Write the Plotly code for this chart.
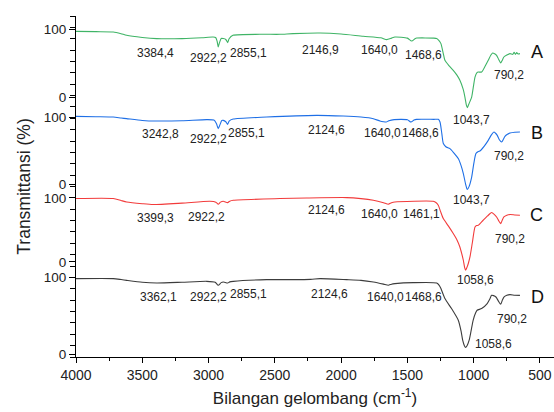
import plotly.graph_objects as go

# ---------------- data (wavenumber cm-1, transmittance % relative to each trace's 0/100 labels)
wn_A = [4000, 3850, 3719, 3660, 3618, 3500, 3391, 3200, 3050, 2966, 2945, 2935, 2927, 2918, 2905, 2889,
        2870, 2856, 2845, 2816, 2612, 2461, 2363, 2159, 2000, 1833, 1700, 1656, 1620, 1594, 1500, 1468,
        1440, 1430, 1300, 1279, 1260, 1247, 1230, 1217, 1185, 1154, 1125, 1104, 1080, 1066, 1055, 1048,
        1040, 1027, 1015, 1000, 990, 975, 965, 940, 915, 890, 870, 857, 842, 827, 810, 796, 785, 772,
        750, 726, 705, 695, 685, 675, 665, 651]
T_A = [97.0, 96.5, 96.0, 93.5, 91.1, 88.0, 86.3, 86.3, 87.5, 88.6, 87.5, 82.0, 74.0, 80.0, 86.5, 86.3,
       85.0, 80.4, 86.0, 91.1, 92.6, 92.6, 93.6, 94.5, 93.0, 89.7, 87.4, 84.8, 87.0, 88.6, 87.0, 82.7,
       86.5, 87.1, 87.0, 86.3, 83.0, 78.9, 65.0, 54.2, 46.0, 39.4, 32.0, 24.7, 12.0, 0.0, -12.0, -15.7,
       -12.0, -6.0, 0.0, 18.0, 29.5, 36.0, 36.9, 36.9, 45.0, 54.2, 62.0, 65.0, 64.0, 61.6, 55.0, 50.2, 54.0, 59.1,
       62.0, 64.1, 63.0, 66.0, 63.0, 65.5, 63.5, 64.1]

wn_B = [4000, 3850, 3719, 3660, 3618, 3500, 3391, 3200, 3014, 2960, 2940, 2927, 2915, 2900, 2889, 2870,
        2856, 2845, 2814, 2562, 2184, 1985, 1850, 1757, 1707, 1680, 1660, 1640, 1600, 1500, 1473, 1450,
        1430, 1300, 1267, 1254, 1240, 1229, 1210, 1179, 1150, 1116, 1095, 1078, 1060, 1048, 1035, 1015,
        1000, 983, 965, 953, 920, 890, 865, 847, 835, 822, 805, 789, 776, 764, 745, 726, 690, 651]
T_B = [101.0, 100.5, 100.0, 98.5, 97.6, 95.0, 94.1, 94.5, 96.2, 95.5, 90.0, 82.8, 88.0, 95.0, 95.1, 93.0,
       89.2, 94.0, 97.0, 100.0, 102.5, 101.5, 100.0, 97.6, 94.1, 93.0, 92.6, 94.5, 96.2, 96.0, 92.6, 95.5,
       96.6, 96.6, 96.6, 92.6, 75.0, 60.7, 56.0, 53.3, 47.0, 38.5, 28.0, 16.3, 0.0, -7.4, -3.0, 11.2,
       30.0, 45.9, 49.0, 49.7, 57.0, 65.5, 74.0, 77.8, 76.0, 72.9, 66.0, 63.0, 67.0, 71.4, 74.5, 76.3, 77.5, 77.8]

wn_C = [4000, 3719, 3660, 3618, 3500, 3419, 3200, 2990, 2945, 2927, 2910, 2889, 2856, 2840, 2814, 2461,
        2260, 1958, 1850, 1757, 1680, 1644, 1620, 1594, 1305, 1285, 1267, 1250, 1229, 1190, 1154, 1125,
        1104, 1090, 1078, 1068, 1061, 1050, 1040, 1028, 1010, 990, 978, 965, 928, 895, 865, 845, 827,
        810, 796, 785, 772, 750, 726, 690, 651]
T_C = [99.1, 99.1, 96.0, 93.8, 91.0, 89.7, 92.0, 94.8, 93.5, 90.2, 93.5, 94.8, 92.8, 95.0, 96.4, 99.1,
       100.0, 100.6, 99.0, 96.4, 92.5, 90.2, 92.5, 93.8, 94.8, 93.0, 88.6, 79.0, 67.8, 56.0, 44.4, 34.0,
       23.4, 13.0, 2.7, -9.0, -13.0, -8.0, -2.0, 7.8, 30.0, 54.7, 57.0, 57.3, 65.2, 72.0, 77.2, 74.5, 70.3,
       64.0, 60.0, 65.0, 70.3, 73.0, 74.1, 73.5, 73.0]

wn_D = [4000, 3719, 3660, 3618, 3500, 3391, 3200, 3014, 2950, 2927, 2905, 2889, 2856, 2840, 2814, 2562,
        2461, 2230, 2159, 1958, 1850, 1757, 1680, 1644, 1620, 1594, 1456, 1279, 1260, 1247, 1217, 1167,
        1116, 1095, 1083, 1070, 1061, 1050, 1034, 1020, 1004, 985, 974, 940, 898, 878, 865, 850, 832,
        812, 796, 785, 772, 750, 726, 690, 651]
T_D = [98.7, 98.7, 97.5, 96.5, 94.0, 93.0, 94.0, 95.2, 94.0, 90.0, 93.5, 94.3, 93.0, 94.5, 95.2, 97.4,
       97.4, 97.8, 98.7, 97.4, 96.5, 94.3, 91.5, 90.0, 91.5, 92.2, 93.5, 93.0, 90.0, 85.7, 72.6, 59.6,
       44.3, 30.0, 18.3, 11.0, 8.7, 11.0, 18.3, 30.0, 44.3, 54.0, 57.4, 59.6, 66.1, 72.0, 76.9, 76.5, 74.7,
       69.0, 65.2, 70.0, 74.7, 77.0, 77.8, 77.0, 76.9]

names = ["A", "B", "C", "D"]
colors = ["#3fb466", "#1e6fe6", "#f23b3b", "#3c3c3c"]
# stacked display: axis position of each trace's 0 % and 100 % labels
zero_pos = [22.87, 15.17, 8.36, 0.25]
hundred_pos = [28.83, 21.11, 13.99, 6.98]

# peak labels: (text, wavenumber position, axis position)
peak_text = [
    ["3384,4", "2922,2", "2855,1", "2146,9", "1640,0", "1468,6", "1043,7", "790,2"],
    ["3242,8", "2922,2", "2855,1", "2124,6", "1640,0", "1468,6", "1043,7", "790,2"],
    ["3399,3", "2922,2", "2124,6", "1640,0", "1461,1", "1058,6", "790,2"],
    ["3362,1", "2922,2", "2855,1", "2124,6", "1640,0", "1468,6", "1058,6", "790,2"],
]
peak_x = [
    [3404, 3002, 2700, 2159, 1712, 1380, 1013, 731],
    [3366, 3002, 2712, 2109, 1688, 1398, 1013, 731],
    [3404, 3014, 2109, 1707, 1392, 990, 726],
    [3379, 3002, 2700, 2084, 1662, 1380, 852, 709],
]
peak_y = [
    [26.74, 26.30, 26.74, 27.04, 26.98, 26.60, 20.82, 24.78],
    [19.59, 19.15, 19.74, 20.00, 19.68, 19.68, 13.79, 17.66],
    [12.26, 12.32, 12.91, 12.62, 12.62, 6.75, 10.42],
    [5.28, 5.28, 5.58, 5.58, 5.28, 5.28, 1.18, 3.38],
]
letter_x = [525, 525, 525, 520]
letter_y = [26.83, 19.71, 12.47, 5.28]

x_ticks = [4000, 3500, 3000, 2500, 2000, 1500, 1000, 500]

FONT = "Liberation Sans, Arial, sans-serif"

fig = go.Figure()
wns = [wn_A, wn_B, wn_C, wn_D]
Ts = [T_A, T_B, T_C, T_D]
for i in range(4):
    span = hundred_pos[i] - zero_pos[i]
    yy = [zero_pos[i] + t / 100.0 * span for t in Ts[i]]
    fig.add_trace(go.Scatter(x=wns[i], y=yy, mode="lines", name=names[i],
                             line=dict(color=colors[i], width=1.1, shape="spline", smoothing=0.6),
                             showlegend=False, hoverinfo="skip"))

annotations = []
for i in range(4):
    for t, x, y in zip(peak_text[i], peak_x[i], peak_y[i]):
        annotations.append(dict(x=x, y=y, xref="x", yref="y", text=t, showarrow=False,
                                font=dict(family=FONT, size=12, color="#222222")))
    annotations.append(dict(x=letter_x[i], y=letter_y[i], xref="x", yref="y", text=names[i],
                            showarrow=False, font=dict(family=FONT, size=18, color="#111111")))

yvals = []
ytext = []
for i in range(4):
    yvals += [hundred_pos[i], zero_pos[i]]
    ytext += ["100", "0"]

fig.update_layout(
    width=554, height=412,
    margin=dict(l=76, r=0, t=16, b=55),
    paper_bgcolor="white", plot_bgcolor="white",
    font=dict(family=FONT, size=14, color="#222222"),
    annotations=annotations,
    xaxis=dict(range=[4000, 394], tickmode="array", tickvals=x_ticks,
               ticktext=[str(v) for v in x_ticks], automargin=False,
               ticks="outside", ticklen=5, tickcolor="black", tickwidth=1,
               minor=dict(dtick=250, tick0=0, ticks="outside", ticklen=3, tickcolor="black"),
               showline=True, linecolor="black", linewidth=1, showgrid=False, zeroline=False,
               tickfont=dict(size=14),
               title=dict(text="Bilangan gelombang (cm<sup>-1</sup>)", font=dict(size=17), standoff=10)),
    yaxis=dict(range=[0, 30], tickmode="array", tickvals=yvals, ticktext=ytext, automargin=False,
               ticks="outside", ticklen=6, tickcolor="black", tickwidth=1,
               minor=dict(dtick=1, tick0=0, ticks="outside", ticklen=5, tickcolor="black"),
               showline=True, linecolor="black", linewidth=1, showgrid=False, zeroline=False,
               tickfont=dict(size=13.5),
               title=dict(text="Transmittansi (%)", font=dict(size=17.5), standoff=8)),
)

fig.write_html("out.html", config={"displayModeBar": False},
               post_script="document.body.style.margin='0';document.body.style.overflow='hidden';")
